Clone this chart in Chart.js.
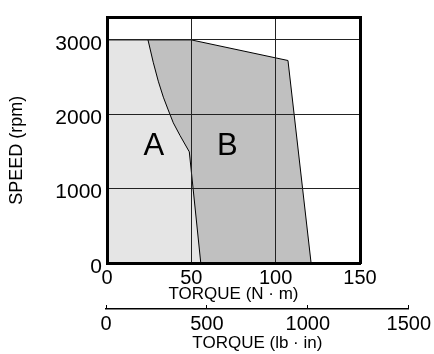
<!DOCTYPE html>
<html>
<head>
<meta charset="utf-8">
<script src="https://cdn.jsdelivr.net/npm/chart.js@4.4.1/dist/chart.umd.min.js"></script>
<style>
  body { margin: 0; background: #fff; }
  #wrap { position: relative; width: 434px; height: 354px; }
  canvas { position: absolute; left: 0; top: 0; }
</style>
</head>
<body>
<div id="wrap">
  <canvas id="speedChart" width="434" height="354"></canvas>
  <canvas id="lbAxis" width="434" height="354"></canvas>
</div>
<script>
// Zone A: upper edge of the continuous region (torque N·m / speed rpm)
const zoneATorque = [0, 24.3, 27.4, 30.4, 33.4, 36.3, 39.3, 43.3, 48.8, 55.6];
const zoneASpeed = [3000, 3000, 2700, 2445, 2230, 2058, 1885, 1714, 1495, 0];

// Zone B: outer edge of the intermittent region
const zoneBTorque = [24.3, 50, 107.3, 121];
const zoneBSpeed = [3000, 3000, 2723, 0];

// Tick labels
const torqueTicks = [0, 50, 100, 150];
const speedTicks = [0, 1000, 2000, 3000];
const lbInTicks = [0, 500, 1000, 1500];

// Zone letters and where they sit
const zoneLabels = ["A", "B"];
const zoneLabelTorque = [27.7, 71.4];
const zoneLabelSpeed = [1570, 1570];

Chart.defaults.font.family = '"Liberation Sans", Arial, sans-serif';
Chart.defaults.color = "#000";

const toPoints = (xs, ys) => xs.map((x, i) => ({ x: x, y: ys[i] }));
const fixTicks = (values) => (scale) => {
  scale.ticks = values.map((v) => ({ value: v }));
};
const plainNumber = (value) => String(value); // no thousands separator

const zoneLabelPlugin = {
  id: "zoneLabels",
  afterDatasetsDraw(chart) {
    const { ctx, scales } = chart;
    ctx.save();
    ctx.font = '31px "Liberation Sans", Arial, sans-serif';
    ctx.fillStyle = "#000";
    ctx.textAlign = "center";
    ctx.textBaseline = "middle";
    zoneLabels.forEach((txt, i) => {
      ctx.fillText(
        txt,
        scales.x.getPixelForValue(zoneLabelTorque[i]),
        scales.y.getPixelForValue(zoneLabelSpeed[i])
      );
    });
    ctx.restore();
  },
};

// Main chart (torque in N·m)
const speedChart = new Chart(document.getElementById("speedChart"), {
  type: "line",
  data: {
    datasets: [
      {
        label: "A",
        data: toPoints(zoneATorque, zoneASpeed),
        backgroundColor: "#e5e5e5",
        borderColor: "#000",
        borderWidth: 1,
        fill: "origin",
        pointRadius: 0,
        tension: 0,
      },
      {
        label: "B",
        data: toPoints(zoneBTorque, zoneBSpeed),
        backgroundColor: "#c0c0c0",
        borderColor: "#000",
        borderWidth: 1,
        fill: "origin",
        pointRadius: 0,
        tension: 0,
      },
    ],
  },
  options: {
    responsive: false,
    animation: false,
    layout: { padding: { left: 0, top: 7, right: 74, bottom: 49 }, autoPadding: false },
    plugins: { legend: { display: false }, tooltip: { enabled: false } },
    scales: {
      x: {
        type: "linear",
        min: 0,
        max: 150,
        afterBuildTicks: fixTicks(torqueTicks),
        afterFit: (s) => { s.height = 42; },
        grid: { color: "#222", lineWidth: 1, drawTicks: false, z: 1 },
        border: { color: "#000", width: 3, z: 2 },
        ticks: { font: { size: 20 }, padding: 3, maxRotation: 0, callback: plainNumber },
        title: {
          display: true,
          text: "TORQUE (N · m)",
          font: { size: 17 },
          padding: { top: 0, bottom: 0 },
        },
      },
      y: {
        type: "linear",
        min: 0,
        max: 3300,
        afterBuildTicks: fixTicks(speedTicks),
        afterFit: (s) => { s.width = 107; },
        grid: { color: "#222", lineWidth: 1, drawTicks: false, z: 1 },
        border: { color: "#000", width: 3, z: 2 },
        ticks: { font: { size: 21 }, padding: 5, labelOffset: 4, callback: plainNumber },
        title: {
          display: true,
          text: "SPEED (rpm)\u00a0\u00a0\u00a0\u00a0",
          font: { size: 18 },
          padding: { top: 6, bottom: 0 },
        },
      },
      xTop: {
        type: "linear",
        position: "top",
        min: 0,
        max: 150,
        afterFit: (s) => { s.height = 0; },
        grid: { display: false },
        border: { color: "#000", width: 3, z: 2 },
        ticks: { display: false },
      },
      yRight: {
        type: "linear",
        position: "right",
        min: 0,
        max: 3300,
        afterFit: (s) => { s.width = 0; },
        grid: { display: false },
        border: { color: "#000", width: 3, z: 2 },
        ticks: { display: false },
      },
    },
  },
  plugins: [zoneLabelPlugin],
});

// Second torque axis (lb·in), drawn by its own chart below the first one
const lbAxis = new Chart(document.getElementById("lbAxis"), {
  type: "line",
  data: { datasets: [] },
  options: {
    responsive: false,
    animation: false,
    layout: { padding: { left: 106, right: 25, top: 305, bottom: 0 }, autoPadding: false },
    plugins: { legend: { display: false }, tooltip: { enabled: false } },
    scales: {
      x: {
        type: "linear",
        min: 0,
        max: 1500,
        afterBuildTicks: fixTicks(lbInTicks),
        afterFit: (s) => { s.height = 45; },
        grid: { color: "#000", lineWidth: 1, drawTicks: false, drawOnChartArea: true },
        border: { color: "#000", width: 1.5 },
        ticks: { font: { size: 20 }, padding: 3, maxRotation: 0, callback: plainNumber },
        title: {
          display: true,
          text: "TORQUE (lb · in)",
          font: { size: 17 },
          padding: { top: 0, bottom: 0 },
        },
      },
      y: { display: false, min: 0, max: 1 },
    },
  },
});
</script>
</body>
</html>
